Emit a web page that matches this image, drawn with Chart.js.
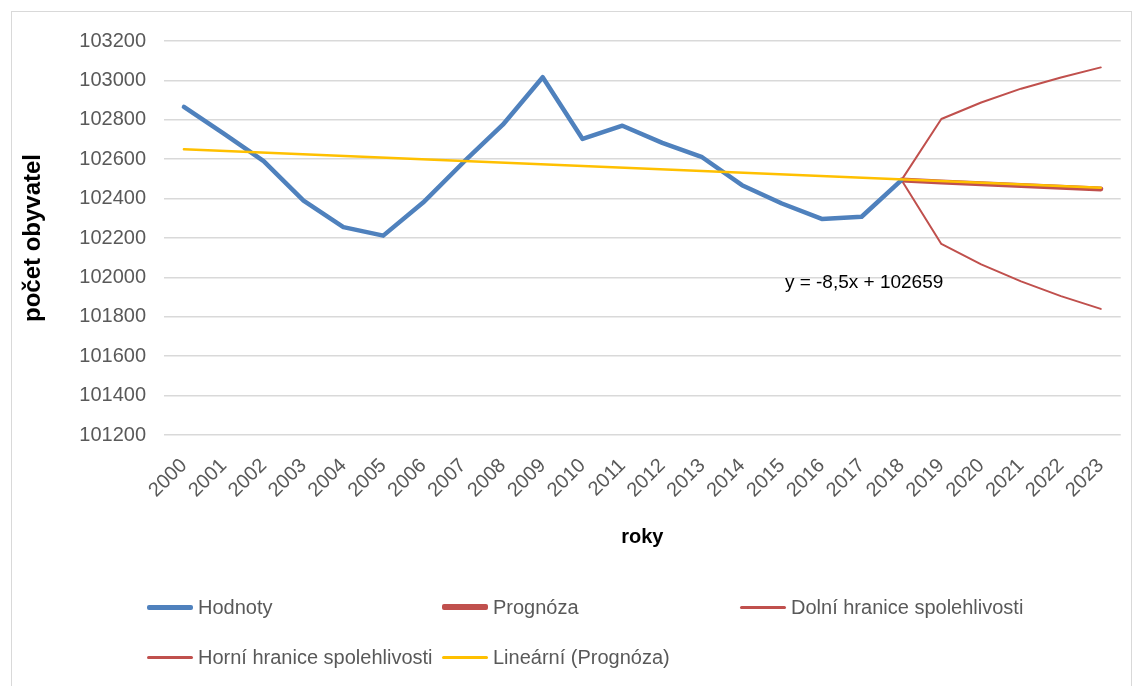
<!DOCTYPE html>
<html>
<head>
<meta charset="utf-8">
<script src="https://cdn.jsdelivr.net/npm/chart.js@4"></script>
<style>
  html, body { margin: 0; padding: 0; background: #fff; }
  #wrap { position: relative; width: 1137px; height: 686px; overflow: hidden; }
  #frame { position: absolute; left: 11px; top: 11px; width: 1121px; height: 690px; border: 1px solid #d9d9d9; box-sizing: border-box; }
  canvas { position: absolute; left: 0; top: 0; }
  #legend { position: absolute; left: 147px; top: 590px; display: grid; grid-template-columns: 295px 298px 300px; row-gap: 16px;
            font-family: 'Liberation Sans', sans-serif; font-size: 20px; color: #595959; }
  .item { display: flex; align-items: center; height: 34px; white-space: nowrap; }
  .swatch { width: 46px; margin-right: 5px; border-radius: 2px; }
</style>
</head>
<body>
<div id="wrap">
  <div id="frame"></div>
  <canvas id="chart" width="1137" height="686"></canvas>
  <div id="legend"></div>
</div>
<script>
// --- data ---
const years = ['2000','2001','2002','2003','2004','2005','2006','2007','2008','2009','2010','2011',
               '2012','2013','2014','2015','2016','2017','2018','2019','2020','2021','2022','2023'];

const hodnoty = [102865, 102730, 102590, 102390, 102255, 102212, 102380, 102582, 102775, 103016, 102703, 102770,
                 102683, 102610, 102468, 102375, 102297, 102308, 102494, null, null, null, null, null];

const prognoza = [null, null, null, null, null, null, null, null, null, null, null, null,
                  null, null, null, null, null, null, 102494, 102484, 102475, 102467, 102458, 102449];

const dolniHranice = [null, null, null, null, null, null, null, null, null, null, null, null,
                      null, null, null, null, null, null, 102494, 102170, 102066, 101980, 101905, 101840];

const horniHranice = [null, null, null, null, null, null, null, null, null, null, null, null,
                      null, null, null, null, null, null, 102494, 102804, 102888, 102958, 103015, 103066];

// linear trend of the forecast, only its two ends
const trendLine = [102650, null, null, null, null, null, null, null, null, null, null, null,
                   null, null, null, null, null, null, null, null, null, null, null, 102455];

const yTicks = [101200, 101400, 101600, 101800, 102000, 102200, 102400, 102600, 102800, 103000, 103200];
const equation = 'y = -8,5x + 102659';

const FONT = "'Liberation Sans', sans-serif";
const GRAY = '#595959';

// equation label of the trend line
const equationLabel = {
    id: 'equationLabel',
    afterDatasetsDraw(chart) {
        const x = chart.scales.x.getPixelForValue(15);
        const y = chart.scales.y.getPixelForValue(101972);
        const ctx = chart.ctx;
        ctx.save();
        ctx.font = '19px ' + FONT;
        ctx.fillStyle = '#000';
        ctx.textAlign = 'left';
        ctx.textBaseline = 'middle';
        ctx.fillText(equation, x + 3, y);
        ctx.restore();
    }
};

const chart = new Chart(document.getElementById('chart').getContext('2d'), {
    type: 'line',
    data: {
        labels: years,
        datasets: [
            { label: 'Hodnoty', data: hodnoty, borderColor: '#4f81bd', borderWidth: 4.5, order: 2, legendWidth: 5 },
            { label: 'Prognóza', data: prognoza, borderColor: '#c0504d', borderWidth: 5, order: 3, legendWidth: 6 },
            { label: 'Dolní hranice spolehlivosti', data: dolniHranice, borderColor: '#c0504d', borderWidth: 2, order: 4, legendWidth: 3 },
            { label: 'Horní hranice spolehlivosti', data: horniHranice, borderColor: '#c0504d', borderWidth: 2, order: 4, legendWidth: 3 },
            { label: 'Lineární (Prognóza)', data: trendLine, borderColor: '#ffc000', borderWidth: 2.5, order: 1, spanGaps: true, legendWidth: 3 }
        ]
    },
    options: {
        responsive: false, animation: false,
        elements: { point: { radius: 0 }, line: { tension: 0, borderCapStyle: 'round', borderJoinStyle: 'round' } },
        layout: { padding: { left: 11, top: 41, right: 12, bottom: 131 } },
        plugins: { legend: { display: false }, tooltip: { enabled: false } },
        scales: {
            x: {
                offset: true,
                grid: { display: false, drawTicks: false },
                border: { display: false },
                ticks: { color: GRAY, font: { family: FONT, size: 20 }, maxRotation: 45, minRotation: 45, autoSkip: false, padding: 19 },
                title: { display: true, text: 'roky', color: '#000', font: { family: FONT, size: 20, weight: 'bold' }, padding: { top: 0, bottom: 6 } },
                afterFit: function(scale) { scale.height = 120; }
            },
            y: {
                min: 101200, max: 103200,
                afterBuildTicks: function(scale) { scale.ticks = yTicks.map(function(v) { return { value: v }; }); },
                grid: { color: '#d9d9d9', lineWidth: 1.5, drawTicks: false },
                border: { display: false },
                ticks: { color: GRAY, font: { family: FONT, size: 20 }, padding: 18, callback: function(v) { return String(v); } },
                title: { display: true, text: 'počet obyvatel', color: '#000', font: { family: FONT, size: 24, weight: 'bold' }, padding: { top: 8, bottom: 0 } },
                afterFit: function(scale) { scale.width = 153; }
            }
        }
    },
    plugins: [equationLabel]
});

// legend as HTML grid, built from the chart's datasets
const legendBox = document.getElementById('legend');
chart.data.datasets.forEach(function(ds) {
    const item = document.createElement('div');
    item.className = 'item';
    const sw = document.createElement('span');
    sw.className = 'swatch';
    sw.style.height = ds.legendWidth + 'px';
    sw.style.background = ds.borderColor;
    const txt = document.createElement('span');
    txt.textContent = ds.label;
    item.appendChild(sw);
    item.appendChild(txt);
    legendBox.appendChild(item);
});
</script>
</body>
</html>
